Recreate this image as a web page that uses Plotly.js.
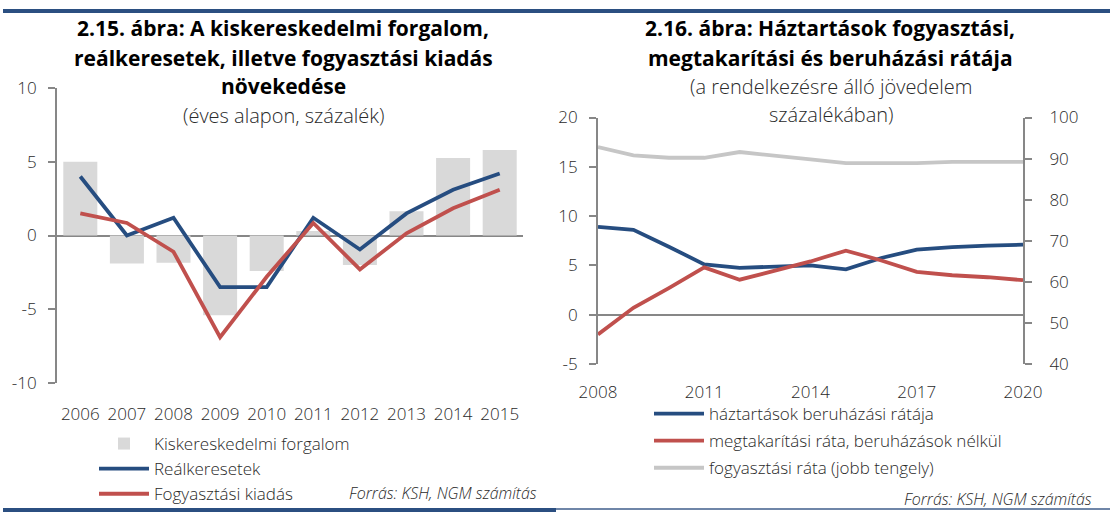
<!DOCTYPE html>
<html>
<head>
<meta charset="utf-8">
<script src="https://cdn.plot.ly/plotly-3.0.1.min.js"></script>
<style>html,body{margin:0;padding:0;background:#fff;}#chart{width:1110px;height:512px;}</style>
</head>
<body>
<div id="chart"></div>
<script>
// ---- Left chart (2.15) ----
const yearsL = ['2006','2007','2008','2009','2010','2011','2012','2013','2014','2015'];
const kiskereskedelmi = [5.0, -1.9, -1.85, -5.4, -2.4, 0.3, -2.0, 1.65, 5.25, 5.8];
const realkeresetek = [4.0, 0.0, 1.2, -3.5, -3.5, 1.2, -0.95, 1.5, 3.1, 4.2];
const fogyasztasiKiadas = [1.5, 0.85, -1.1, -6.9, -2.8, 0.85, -2.3, 0.15, 1.85, 3.1];
const leftNames = ['Kiskereskedelmi forgalom', 'Reálkeresetek', 'Fogyasztási kiadás'];
const leftYTickVals = [-10, -5, 0, 5, 10];
const leftYTickText = ['-10', '-5', '0', '5', '10'];

// ---- Right chart (2.16) ----
const yearsR = ['2008','2009','2010','2011','2012','2013','2014','2015','2016','2017','2018','2019','2020'];
const beruhazasiRata = [8.9, 8.6, 6.9, 5.1, 4.75, 4.85, 5.0, 4.6, 5.75, 6.6, 6.85, 7.0, 7.1];
const megtakaritasiRata = [-2.0, 0.7, 2.7, 4.8, 3.55, 4.5, 5.4, 6.5, 5.5, 4.35, 4.0, 3.8, 3.5];
const fogyasztasiRata = [92.8, 90.8, 90.2, 90.2, 91.6, 90.6, 89.8, 88.9, 88.9, 88.9, 89.2, 89.2, 89.2];
const rightNames = ['háztartások beruházási rátája', 'megtakarítási ráta, beruházások nélkül', 'fogyasztási ráta (jobb tengely)'];
const rightTicks = ['2008','2011','2014','2017','2020'];
const rightYTickVals = [-5, 0, 5, 10, 15, 20];
const rightYTickText = ['-5', '0', '5', '10', '15', '20'];
const rightY3TickVals = [40, 50, 60, 70, 80, 90, 100];

const BLUE = '#264d80', RED = '#c0504d', BAR = '#d9d9d9', LGRAY = '#c6c6c6', AX = '#878787';
const FONT = 'Open Sans, Liberation Sans, sans-serif';
const W = 1110, H = 512;
const px = v => v / W, py = v => 1 - v / H;

const traces = [
  {type:'bar', x: yearsL, y: kiskereskedelmi, name: leftNames[0], marker:{color:BAR}, xaxis:'x', yaxis:'y', legend:'legend', legendgroup:'a'},
  {type:'scatter', mode:'lines', x: yearsL, y: realkeresetek, name: leftNames[1], line:{color:BLUE, width:3.8}, xaxis:'x', yaxis:'y', legend:'legend', legendgroup:'b'},
  {type:'scatter', mode:'lines', x: yearsL, y: fogyasztasiKiadas, name: leftNames[2], line:{color:RED, width:3.8}, xaxis:'x', yaxis:'y', legend:'legend', legendgroup:'c'},
  {type:'scatter', mode:'lines', x: yearsR, y: beruhazasiRata, name: rightNames[0], line:{color:BLUE, width:3.8}, xaxis:'x2', yaxis:'y2', legend:'legend2', legendgroup:'d'},
  {type:'scatter', mode:'lines', x: yearsR, y: megtakaritasiRata, name: rightNames[1], line:{color:RED, width:3.8}, xaxis:'x2', yaxis:'y2', legend:'legend2', legendgroup:'e'},
  {type:'scatter', mode:'lines', x: yearsR, y: fogyasztasiRata, name: rightNames[2], line:{color:LGRAY, width:3.8}, xaxis:'x2', yaxis:'y3', legend:'legend2', legendgroup:'f'}
];

const TXT = '#2a2a2a';
const tickFont = {family: FONT, size: 17, color: TXT, weight: 300};
const titleFont = {family: FONT, size: 21, color: '#000', weight: 'bold'};
const subFont = {family: FONT, size: 20, color: TXT, weight: 300};
const srcFont = {family: FONT, size: 16, color: TXT, style: 'italic', weight: 300};
const legFont = {family: FONT, size: 17, color: TXT, weight: 300};

function ann(text, x, y, font) {
  return {text: text, x: px(x), y: py(y), xref:'paper', yref:'paper', showarrow:false, xanchor:'center', yanchor:'middle', font: font};
}

const layout = {
  width: W, height: H,
  margin: {l:0, r:0, t:0, b:0},
  paper_bgcolor: '#fff', plot_bgcolor: '#fff',
  showlegend: true,
  bargap: 0.27,
  xaxis: {domain:[px(57), px(523)], anchor:'y', type:'category', showline:false, ticks:'', showgrid:false,
          tickfont: tickFont, ticklabelstandoff: 19, fixedrange:true},
  yaxis: {domain:[py(383), py(88)], anchor:'x', range:[-10,10], tickvals: leftYTickVals, ticktext: leftYTickText, showgrid:false,
          showline:true, linecolor:AX, linewidth:2, ticks:'outside', ticklen:7, tickwidth:2, tickcolor:AX,
          zeroline:true, zerolinecolor:AX, zerolinewidth:2, tickfont: tickFont, ticklabelstandoff: 8},
  xaxis2: {domain:[px(598), px(1023)], anchor:'y2', type:'category', showline:false, ticks:'', showgrid:false,
           tickvals: rightTicks, tickfont: tickFont, ticklabelstandoff: 16},
  yaxis2: {domain:[py(364), py(117.5)], anchor:'x2', range:[-5,20], tickvals: rightYTickVals, ticktext: rightYTickText, showgrid:false,
           showline:true, linecolor:AX, linewidth:2, ticks:'outside', ticklen:7, tickwidth:2, tickcolor:AX,
           zeroline:true, zerolinecolor:AX, zerolinewidth:2, tickfont: tickFont, ticklabelstandoff: 8},
  yaxis3: {overlaying:'y2', side:'right', anchor:'x2', range:[40,100], tickvals: rightY3TickVals, showgrid:false,
           showline:true, linecolor:AX, linewidth:2, ticks:'outside', ticklen:7, tickwidth:2, tickcolor:AX,
           zeroline:false, tickfont: tickFont, ticklabelstandoff: 14},
  legend: {x: px(94), y: py(426), xanchor:'left', yanchor:'top', font: legFont,
           bgcolor:'rgba(0,0,0,0)', tracegroupgap:0, itemwidth:50},
  legend2: {x: px(649), y: py(396), xanchor:'left', yanchor:'top', font: legFont,
            bgcolor:'rgba(0,0,0,0)', tracegroupgap:2, itemwidth:50},
  annotations: [
    ann('2.15. ábra: A kiskereskedelmi forgalom,', 283, 28, titleFont),
    ann('reálkeresetek, illetve fogyasztási kiadás', 283, 58, titleFont),
    ann('növekedése', 283, 86, titleFont),
    ann('(éves alapon, százalék)', 283, 115, subFont),
    ann('2.16. ábra: Háztartások fogyasztási,', 830, 28, titleFont),
    ann('megtakarítási és beruházási rátája', 830, 58, titleFont),
    ann('(a rendelkezésre álló jövedelem', 831, 86, subFont),
    ann('százalékában)', 831, 114, subFont),
    ann('Forrás: KSH, NGM számítás', 443, 493, srcFont),
    ann('Forrás: KSH, NGM számítás', 998, 499, srcFont)
  ],
  shapes: [
    {type:'line', xref:'paper', yref:'paper', x0:px(3), x1:1, y0:py(11), y1:py(11), line:{color:'#2b4f81', width:4}},
    {type:'line', xref:'paper', yref:'paper', x0:px(3), x1:px(556), y0:py(510), y1:py(510), line:{color:'#2b4f81', width:4}},
    {type:'line', xref:'paper', yref:'paper', x0:px(556), x1:1, y0:py(509), y1:py(509), line:{color:'#6f86a8', width:2}}
  ]
};

Plotly.newPlot('chart', traces, layout, {displayModeBar:false, staticPlot:true});
</script>
</body>
</html>
